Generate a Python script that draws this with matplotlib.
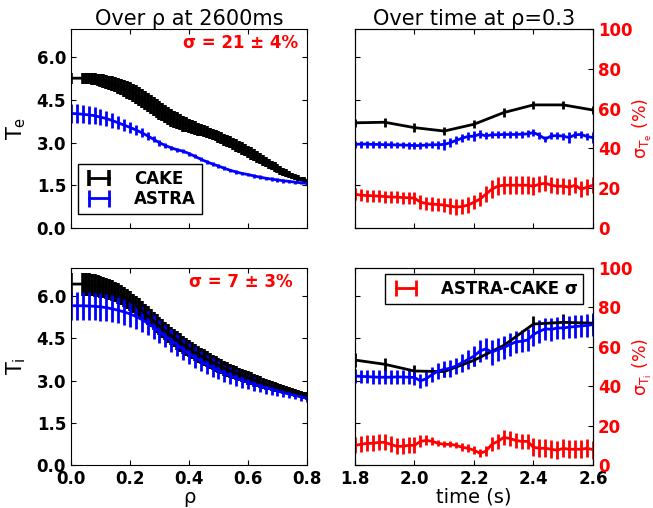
import numpy as np
import matplotlib
matplotlib.use("Agg")
import matplotlib.pyplot as plt

# ---------------- data ----------------
# radial profiles at 2600 ms
rho_cake = np.r_[0.0, np.arange(4, 81) / 100]
te_cake = [5.27,
           5.27, 5.26, 5.25, 5.24, 5.23, 5.21, 5.19, 5.17, 5.14,
           5.11, 5.08, 5.04, 5.00, 4.96, 4.91, 4.86, 4.81,
           4.75, 4.69, 4.63, 4.56, 4.49, 4.42, 4.35, 4.28, 4.21, 4.14,
           4.07, 4.00, 3.94, 3.88, 3.82, 3.77, 3.72, 3.67, 3.63, 3.59,
           3.55, 3.51, 3.48, 3.44, 3.41, 3.37, 3.33, 3.29, 3.25, 3.20,
           3.16, 3.11, 3.06, 3.01, 2.96, 2.91, 2.85, 2.80, 2.74, 2.68,
           2.62, 2.56, 2.50, 2.44, 2.38, 2.32, 2.26, 2.20, 2.14, 2.08,
           2.03, 1.98, 1.93, 1.88, 1.84, 1.80, 1.76, 1.73, 1.70, 1.67]
te_cake_err = [0.19,
               0.19, 0.19, 0.20, 0.20, 0.21, 0.21, 0.22, 0.23, 0.24,
               0.25, 0.26, 0.27, 0.28, 0.29, 0.30, 0.31, 0.32,
               0.33, 0.33, 0.33, 0.33, 0.33, 0.33, 0.33, 0.33, 0.33, 0.33,
               0.32, 0.32, 0.31, 0.31, 0.30, 0.30, 0.29, 0.28, 0.27, 0.26,
               0.25, 0.24, 0.23, 0.22, 0.21, 0.21, 0.20, 0.20, 0.20, 0.20,
               0.20, 0.21, 0.21, 0.21, 0.22, 0.22, 0.22, 0.22, 0.22, 0.22,
               0.22, 0.21, 0.21, 0.20, 0.20, 0.19, 0.18, 0.17, 0.17, 0.16,
               0.15, 0.14, 0.13, 0.12, 0.11, 0.10, 0.09, 0.08, 0.08, 0.07]
ti_cake = [6.43,
           6.43, 6.42, 6.41, 6.40, 6.38, 6.36, 6.33, 6.30, 6.27,
           6.23, 6.19, 6.14, 6.09, 6.03, 5.97, 5.90, 5.83,
           5.75, 5.67, 5.58, 5.49, 5.40, 5.31, 5.22, 5.12, 5.03, 4.94,
           4.85, 4.76, 4.67, 4.59, 4.51, 4.43, 4.35, 4.28, 4.21, 4.14,
           4.07, 4.00, 3.94, 3.88, 3.82, 3.76, 3.70, 3.64, 3.59, 3.54,
           3.49, 3.44, 3.39, 3.35, 3.30, 3.26, 3.22, 3.18, 3.14, 3.10,
           3.06, 3.02, 2.98, 2.94, 2.90, 2.87, 2.84, 2.81, 2.78, 2.75,
           2.72, 2.69, 2.66, 2.63, 2.60, 2.57, 2.54, 2.51, 2.48, 2.45]
ti_cake_err = [0.41,
               0.41, 0.41, 0.40, 0.40, 0.40, 0.39, 0.39, 0.38, 0.38,
               0.37, 0.37, 0.36, 0.36, 0.35, 0.35, 0.35, 0.34,
               0.34, 0.34, 0.34, 0.33, 0.33, 0.33, 0.33, 0.33, 0.33, 0.33,
               0.33, 0.33, 0.33, 0.33, 0.33, 0.33, 0.33, 0.32, 0.32, 0.31,
               0.31, 0.30, 0.30, 0.29, 0.29, 0.28, 0.28, 0.27, 0.27, 0.27,
               0.26, 0.26, 0.26, 0.25, 0.25, 0.25, 0.24, 0.24, 0.24, 0.24,
               0.23, 0.23, 0.22, 0.21, 0.20, 0.19, 0.18, 0.17, 0.17, 0.16,
               0.16, 0.15, 0.15, 0.14, 0.14, 0.14, 0.13, 0.13, 0.13, 0.13]

rho_astra = np.arange(0, 41) / 50
te_astra = [4.03, 4.02, 4.00, 3.98, 3.95, 3.90, 3.85, 3.78, 3.70, 3.62,
            3.54, 3.45, 3.35, 3.24, 3.12, 3.00, 2.90, 2.82, 2.75, 2.70,
            2.62, 2.52, 2.42, 2.33, 2.25, 2.18, 2.10, 2.03, 1.97, 1.92,
            1.88, 1.83, 1.79, 1.75, 1.72, 1.69, 1.66, 1.64, 1.61, 1.59, 1.57]
te_astra_err = [0.33, 0.33, 0.32, 0.31, 0.30, 0.29, 0.27, 0.25, 0.23, 0.21,
                0.19, 0.17, 0.15, 0.13, 0.11, 0.10, 0.09, 0.08, 0.08, 0.07,
                0.07, 0.07, 0.07, 0.07, 0.07, 0.07, 0.07, 0.06, 0.06, 0.06,
                0.06, 0.06, 0.06, 0.06, 0.06, 0.06, 0.06, 0.06, 0.06, 0.06, 0.06]
ti_astra = [5.66, 5.66, 5.66, 5.65, 5.64, 5.62, 5.59, 5.55, 5.50, 5.44,
            5.37, 5.28, 5.17, 5.04, 4.90, 4.74, 4.58, 4.42, 4.26, 4.11,
            3.96, 3.82, 3.69, 3.57, 3.46, 3.36, 3.26, 3.17, 3.09, 3.01,
            2.94, 2.87, 2.81, 2.75, 2.69, 2.63, 2.57, 2.52, 2.47, 2.42, 2.37]
ti_astra_err = [0.50, 0.50, 0.50, 0.50, 0.49, 0.49, 0.48, 0.48, 0.47, 0.46,
                0.45, 0.45, 0.44, 0.43, 0.42, 0.41, 0.40, 0.40, 0.39, 0.38,
                0.37, 0.36, 0.35, 0.34, 0.33, 0.32, 0.31, 0.30, 0.28, 0.27,
                0.25, 0.24, 0.22, 0.21, 0.19, 0.18, 0.16, 0.15, 0.14, 0.13, 0.12]

# time traces at rho = 0.3
t_cake = [1.8, 1.9, 2.0, 2.1, 2.2, 2.3, 2.4, 2.5, 2.6]
te_cake_t = [3.70, 3.72, 3.53, 3.41, 3.65, 4.06, 4.33, 4.33, 4.15]
te_cake_t_err = [0.15, 0.15, 0.15, 0.15, 0.15, 0.15, 0.15, 0.15, 0.15]
ti_cake_t = [3.73, 3.58, 3.34, 3.32, 3.72, 4.25, 5.01, 5.07, 5.04]
ti_cake_t_err = [0.24, 0.24, 0.20, 0.20, 0.20, 0.25, 0.28, 0.28, 0.28]

t_astra = np.arange(90, 131) / 50
te_astra_t = [2.94, 2.95, 2.95, 2.94, 2.94, 2.93, 2.93, 2.92, 2.92, 2.91,
              2.90, 2.90, 2.92, 2.93, 2.93, 2.94, 3.00, 3.08, 3.16, 3.22,
              3.23, 3.30, 3.24, 3.28, 3.28, 3.29, 3.29, 3.29, 3.30, 3.31,
              3.36, 3.26, 3.13, 3.24, 3.25, 3.23, 3.18, 3.28, 3.29, 3.22, 3.18]
te_astra_t_err = [0.12, 0.12, 0.12, 0.12, 0.12, 0.12, 0.12, 0.12, 0.12, 0.12,
                  0.12, 0.12, 0.12, 0.12, 0.14, 0.20, 0.15, 0.14, 0.14, 0.14,
                  0.18, 0.15, 0.12, 0.12, 0.12, 0.12, 0.12, 0.12, 0.12, 0.12,
                  0.12, 0.12, 0.12, 0.12, 0.12, 0.12, 0.18, 0.12, 0.12, 0.12, 0.20]
ti_astra_t = [3.16, 3.15, 3.14, 3.13, 3.12, 3.12, 3.12, 3.13, 3.13, 3.12,
              3.11, 2.99, 3.07, 3.22, 3.34, 3.40, 3.44, 3.52, 3.64, 3.75,
              3.87, 4.05, 4.13, 4.01, 4.10, 4.17, 4.28, 4.37, 4.40, 4.44,
              4.64, 4.75, 4.84, 4.82, 4.87, 4.87, 4.90, 4.92, 4.94, 4.96, 4.99]
ti_astra_t_err = [0.24, 0.24, 0.24, 0.24, 0.24, 0.24, 0.24, 0.24, 0.24, 0.24,
                  0.26, 0.26, 0.26, 0.26, 0.28, 0.28, 0.30, 0.30, 0.32, 0.34,
                  0.36, 0.38, 0.38, 0.45, 0.40, 0.40, 0.40, 0.40, 0.40, 0.40,
                  0.40, 0.40, 0.40, 0.40, 0.40, 0.40, 0.40, 0.40, 0.40, 0.40, 0.40]

sig_te = [17.0, 16.5, 16.3, 16.2, 16.0, 15.8, 15.6, 15.5, 15.3, 15.2,
          15.0, 13.0, 12.3, 12.0, 11.8, 11.5, 11.0, 10.5, 10.8, 11.5,
          13.0, 14.5, 17.0, 19.5, 21.0, 21.5, 21.5, 21.5, 21.5, 21.5,
          21.0, 22.0, 22.5, 21.5, 21.0, 21.0, 20.5, 21.5, 19.5, 20.5, 21.5]
sig_te_err = [3.0, 3.0, 3.0, 3.0, 3.0, 3.0, 3.0, 3.0, 3.0, 3.0,
              3.0, 3.5, 3.5, 3.5, 3.5, 3.5, 4.0, 4.0, 4.0, 4.0,
              3.5, 3.5, 4.0, 4.5, 4.5, 4.5, 4.5, 4.5, 4.5, 4.5,
              4.5, 4.0, 4.0, 4.0, 4.0, 4.0, 4.0, 4.0, 4.0, 4.0, 4.0]
sig_ti = [10.0, 10.5, 11.0, 11.0, 11.5, 11.5, 10.5, 9.5, 9.5, 10.0,
          10.0, 12.0, 12.5, 12.0, 11.0, 10.5, 10.5, 10.0, 9.0, 8.5,
          7.5, 6.0, 7.0, 10.5, 12.0, 14.0, 13.5, 12.5, 12.0, 12.0,
          9.0, 8.5, 8.5, 8.0, 7.5, 8.5, 8.0, 8.0, 8.0, 8.5, 7.8]
sig_ti_err = [4.0, 4.0, 4.0, 4.0, 4.0, 4.0, 4.0, 4.0, 4.0, 4.0,
              4.0, 3.0, 2.5, 2.0, 1.5, 1.5, 1.5, 1.5, 2.0, 2.0,
              2.0, 2.0, 2.5, 3.5, 4.0, 4.0, 4.0, 4.0, 4.0, 4.0,
              4.5, 4.5, 4.5, 4.5, 4.5, 4.5, 4.5, 4.5, 4.5, 4.5, 4.5]

# ---------------- style ----------------
plt.rcParams['font.family'] = ['DejaVu Sans']
plt.rcParams['xtick.direction'] = 'in'
plt.rcParams['ytick.direction'] = 'in'
plt.rcParams['xtick.major.size'] = 3.5
plt.rcParams['ytick.major.size'] = 3.5

TICKFONT = dict(fontsize=12, fontweight='bold')
eb_kw = dict(lw=2, elinewidth=2, capsize=0)
leg_kw = dict(numpoints=2, prop=dict(size=12, weight='bold'), fancybox=False,
              edgecolor='black', framealpha=1, handlelength=1.8,
              handletextpad=1.2, borderpad=0.35, labelspacing=0.15)

fig = plt.figure(figsize=(6.53, 5.08), dpi=100)
axTL = fig.add_axes([0.1087, 0.5512, 0.3614, 0.3917])
axTR = fig.add_axes([0.5436, 0.5512, 0.3645, 0.3917])
axBL = fig.add_axes([0.1087, 0.0846, 0.3614, 0.3878])
axBR = fig.add_axes([0.5436, 0.0846, 0.3645, 0.3878])

# --- left column: radial profiles
for ax, yc, yce, ya, yae in [(axTL, te_cake, te_cake_err, te_astra, te_astra_err),
                             (axBL, ti_cake, ti_cake_err, ti_astra, ti_astra_err)]:
    ax.errorbar(rho_cake, yc, yerr=yce, color='black', label='CAKE',
                lw=2, elinewidth=2.6, capsize=0)
    ax.errorbar(rho_astra, ya, yerr=yae, color='blue', label='ASTRA', **eb_kw)
    ax.set_xlim(0, 0.8)
    ax.set_ylim(0, 7)
    ax.set_xticks([0, 0.2, 0.4, 0.6, 0.8])
    ax.set_yticks([0, 1.5, 3.0, 4.5, 6.0])
    ax.tick_params(top=True, right=True)

axTL.legend(loc='lower left', bbox_to_anchor=(0.03, 0.07), borderaxespad=0, **leg_kw)
axTL.text(0.72, 0.93, 'σ = 21 ± 4%', color='red', transform=axTL.transAxes,
          ha='center', va='center', **TICKFONT)
axBL.text(0.72, 0.93, 'σ = 7 ± 3%', color='red', transform=axBL.transAxes,
          ha='center', va='center', **TICKFONT)

axTL.set_title('Over ρ at 2600ms', fontsize=15, pad=3)
axTL.set_ylabel('T$_\\mathregular{e}$', fontsize=15, labelpad=6)
axBL.set_ylabel('T$_\\mathregular{i}$', fontsize=15, labelpad=6)
axBL.set_xlabel('ρ', fontsize=14, labelpad=0)
axTL.set_xticklabels([])
axTL.set_yticklabels(['0.0', '1.5', '3.0', '4.5', '6.0'], **TICKFONT)
axBL.set_yticklabels(['0.0', '1.5', '3.0', '4.5', '6.0'], **TICKFONT)
axBL.set_xticklabels(['0.0', '0.2', '0.4', '0.6', '0.8'], **TICKFONT)

# --- right column: time traces
twins = []
for ax, yc, yce, ya, yae, sg, sge in [
        (axTR, te_cake_t, te_cake_t_err, te_astra_t, te_astra_t_err, sig_te, sig_te_err),
        (axBR, ti_cake_t, ti_cake_t_err, ti_astra_t, ti_astra_t_err, sig_ti, sig_ti_err)]:
    ax.errorbar(t_cake, yc, yerr=yce, color='black', **eb_kw)
    ax.errorbar(t_astra, ya, yerr=yae, color='blue', **eb_kw)
    ax.set_xlim(1.8, 2.6)
    ax.set_ylim(0, 7)
    ax.set_xticks([1.8, 2.0, 2.2, 2.4, 2.6])
    ax.set_yticks([0, 1.5, 3.0, 4.5, 6.0])
    ax.set_yticklabels([])
    ax.tick_params(top=True, right=False)
    tw = ax.twinx()
    tw.errorbar(t_astra, sg, yerr=sge, color='red', label='ASTRA-CAKE σ', **eb_kw)
    tw.set_ylim(0, 100)
    tw.set_yticks([0, 20, 40, 60, 80, 100])
    tw.set_yticklabels(['0', '20', '40', '60', '80', '100'], color='red', **TICKFONT)
    twins.append(tw)

twins[0].set_ylabel('$\\mathregular{\\sigma_{T_e}}$ (%)', color='red', fontsize=12.5, labelpad=-1)
twins[1].set_ylabel('$\\mathregular{\\sigma_{T_i}}$ (%)', color='red', fontsize=12.5, labelpad=-1)
twins[1].legend(loc='upper right', bbox_to_anchor=(0.96, 0.97), borderaxespad=0, **leg_kw)

axTR.set_title('Over time at ρ=0.3', fontsize=15, pad=3)
axTR.set_xticklabels([])
axBR.set_xticklabels(['1.8', '2.0', '2.2', '2.4', '2.6'], **TICKFONT)
axBR.set_xlabel('time (s)', fontsize=14, labelpad=0)

fig.savefig('out.png', dpi=100)
